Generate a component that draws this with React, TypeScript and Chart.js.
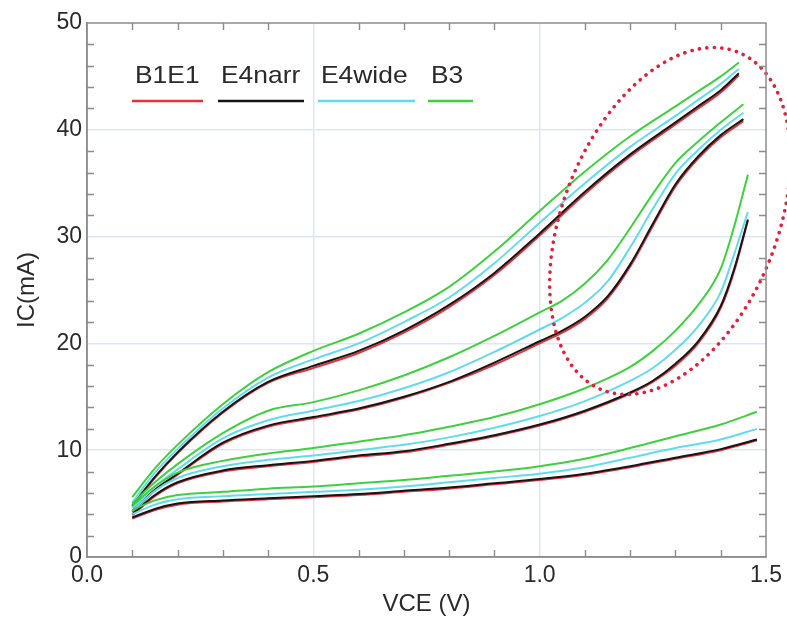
import React, { useEffect, useRef } from 'react';
import { Chart, registerables } from 'chart.js';

Chart.register(...registerables);

// ---- series definitions ----
const SERIES_NAMES = ['B1E1', 'E4narr', 'E4wide', 'B3'];
const SERIES_COLORS = ['#e5323f', '#151515', '#62dcec', '#3fd03f'];

// ---- base-current family 1 (lowest) ----
const VCE_1 = [0.1, 0.15, 0.2, 0.3, 0.4, 0.5, 0.6, 0.7, 0.8, 0.9, 1.0, 1.1, 1.2, 1.3, 1.4, 1.48];
const B1E1_1 = [3.6, 4.4, 4.9, 5.2, 5.4, 5.6, 5.8, 6.1, 6.4, 6.8, 7.2, 7.7, 8.4, 9.2, 10.0, 10.9];
const E4NARR_1 = [3.7, 4.5, 5.0, 5.3, 5.5, 5.7, 5.9, 6.2, 6.5, 6.9, 7.3, 7.8, 8.5, 9.3, 10.1, 11.0];
const E4WIDE_1 = [4.0, 4.9, 5.4, 5.7, 5.9, 6.1, 6.3, 6.6, 7.0, 7.4, 7.8, 8.4, 9.3, 10.2, 11.0, 12.0];
const B3_1 = [4.4, 5.3, 5.8, 6.1, 6.4, 6.6, 6.9, 7.2, 7.6, 8.0, 8.5, 9.2, 10.2, 11.3, 12.4, 13.6];

// ---- family 2 ----
const VCE_2 = [0.1, 0.15, 0.2, 0.3, 0.4, 0.5, 0.6, 0.7, 0.8, 0.9, 1.0, 1.1, 1.2, 1.25, 1.3, 1.35, 1.4, 1.43, 1.46];
const B1E1_2 = [3.9, 5.7, 6.9, 8.0, 8.5, 8.9, 9.4, 9.8, 10.5, 11.3, 12.3, 13.6, 15.3, 16.4, 17.9, 20.0, 23.3, 26.8, 31.5];
const E4NARR_2 = [4.0, 5.8, 7.0, 8.1, 8.6, 9.0, 9.5, 9.9, 10.6, 11.4, 12.4, 13.7, 15.4, 16.5, 18.1, 20.2, 23.5, 27.0, 31.6];
const E4WIDE_2 = [4.3, 6.2, 7.4, 8.5, 9.1, 9.5, 10.0, 10.5, 11.2, 12.1, 13.2, 14.6, 16.5, 17.7, 19.4, 21.6, 24.8, 28.4, 32.3];
const B3_2 = [4.8, 6.6, 7.9, 9.0, 9.7, 10.2, 10.8, 11.4, 12.2, 13.1, 14.3, 15.8, 17.8, 19.3, 21.2, 23.6, 27.0, 31.0, 35.8];

// ---- family 3 ----
const VCE_3 = [0.1, 0.15, 0.2, 0.3, 0.4, 0.5, 0.6, 0.7, 0.8, 0.9, 1.0, 1.05, 1.1, 1.15, 1.2, 1.25, 1.3, 1.35, 1.4, 1.45];
const B1E1_3 = [4.2, 6.2, 7.7, 10.6, 12.2, 13.0, 13.8, 14.9, 16.3, 18.0, 20.0, 21.0, 22.3, 24.2, 27.2, 31.0, 34.7, 37.3, 39.3, 40.8];
const E4NARR_3 = [4.3, 6.3, 7.8, 10.7, 12.3, 13.1, 13.9, 15.0, 16.4, 18.2, 20.2, 21.2, 22.5, 24.4, 27.4, 31.2, 34.9, 37.5, 39.5, 41.0];
const E4WIDE_3 = [4.6, 6.6, 8.2, 11.1, 12.8, 13.7, 14.6, 15.8, 17.3, 19.2, 21.3, 22.4, 23.8, 25.8, 29.0, 32.6, 35.9, 38.1, 40.0, 41.6];
const B3_3 = [5.0, 7.0, 8.7, 11.6, 13.7, 14.5, 15.6, 17.0, 18.7, 20.7, 22.9, 24.0, 25.6, 27.8, 30.8, 34.0, 36.9, 38.9, 40.7, 42.4];

// ---- family 4 (highest) ----
const VCE_4 = [0.1, 0.15, 0.2, 0.3, 0.4, 0.5, 0.6, 0.7, 0.8, 0.9, 1.0, 1.1, 1.2, 1.3, 1.35, 1.4, 1.44];
const B1E1_4 = [4.7, 7.4, 9.7, 13.5, 16.3, 17.7, 19.1, 21.0, 23.4, 26.4, 30.1, 34.0, 37.5, 40.5, 42.0, 43.5, 45.1];
const E4NARR_4 = [4.8, 7.5, 9.8, 13.6, 16.4, 17.9, 19.3, 21.2, 23.6, 26.6, 30.3, 34.2, 37.7, 40.7, 42.2, 43.7, 45.3];
const E4WIDE_4 = [5.1, 7.9, 10.1, 13.9, 16.8, 18.5, 20.0, 22.0, 24.3, 27.5, 31.3, 35.0, 38.4, 41.3, 42.8, 44.3, 45.7];
const B3_4 = [5.6, 8.3, 10.5, 14.3, 17.3, 19.3, 20.9, 22.9, 25.3, 28.6, 32.4, 36.1, 39.4, 42.2, 43.6, 45.0, 46.3];

// ---- axes ----
const X_MIN = 0;
const X_MAX = 1.5;
const X_STEP = 0.1;
const Y_MIN = 0;
const Y_MAX = 50;
const Y_STEP = 2;
const X_TITLE = 'VCE (V)';
const Y_TITLE = 'IC(mA)';

// highlighted region (data coordinates of the dotted ellipse centre)
const HIGHLIGHT_CENTER = { x: 1.288, y: 31.46 };

const FAMILIES = [
  { vce: VCE_1, series: [B1E1_1, E4NARR_1, E4WIDE_1, B3_1] },
  { vce: VCE_2, series: [B1E1_2, E4NARR_2, E4WIDE_2, B3_2] },
  { vce: VCE_3, series: [B1E1_3, E4NARR_3, E4WIDE_3, B3_3] },
  { vce: VCE_4, series: [B1E1_4, E4NARR_4, E4WIDE_4, B3_4] },
];

const FONT = "'Liberation Sans', Arial, Helvetica, sans-serif";
const TEXT_COLOR = '#2a2a2a';
const FRAME_COLOR = '#8c8c8c';
const GRID_COLOR = '#dbe7f2';

const isMajorX = (v: number) => {
  const r = Math.round(v * 10);
  return Math.abs(v * 10 - r) < 1e-6 && r % 5 === 0;
};
const isMajorY = (v: number) => Math.abs(v % 10) < 1e-6;

const decorPlugin = {
  id: 'decor',
  afterDatasetsDraw(chart: any) {
    const { ctx, chartArea, scales } = chart;
    const { left, right, top, bottom } = chartArea;
    const xs = scales.x;
    const ys = scales.y;
    ctx.save();

    // dotted highlight ellipse
    const cx = xs.getPixelForValue(HIGHLIGHT_CENTER.x);
    const cy = ys.getPixelForValue(HIGHLIGHT_CENTER.y);
    ctx.beginPath();
    ctx.ellipse(cx, cy, 107, 182, (22 * Math.PI) / 180, 0, Math.PI * 2);
    ctx.strokeStyle = '#e2203a';
    ctx.lineWidth = 3.6;
    ctx.lineCap = 'round';
    ctx.setLineDash([0.1, 7.4]);
    ctx.stroke();
    ctx.setLineDash([]);
    ctx.lineCap = 'butt';

    // frame
    ctx.strokeStyle = FRAME_COLOR;
    ctx.lineWidth = 1.5;
    ctx.strokeRect(left, top, right - left, bottom - top);

    // inner minor ticks
    const TL = 7;
    ctx.lineWidth = 1.4;
    ctx.beginPath();
    xs.ticks.forEach((t: any) => {
      const v = t.value;
      if (isMajorX(v)) return;
      const px = Math.round(xs.getPixelForValue(v)) + 0.5;
      ctx.moveTo(px, bottom);
      ctx.lineTo(px, bottom - TL);
      ctx.moveTo(px, top);
      ctx.lineTo(px, top + TL);
    });
    ys.ticks.forEach((t: any) => {
      const v = t.value;
      if (isMajorY(v)) return;
      const py = Math.round(ys.getPixelForValue(v)) + 0.5;
      ctx.moveTo(left, py);
      ctx.lineTo(left + TL, py);
      ctx.moveTo(right, py);
      ctx.lineTo(right - TL, py);
    });
    ctx.stroke();
    ctx.restore();
  },
  afterDraw(chart: any) {
    // legend: name above a short line sample
    const { ctx } = chart;
    const items = [
      { x: 132, w: 71 },
      { x: 218, w: 86 },
      { x: 318, w: 97 },
      { x: 428, w: 45 },
    ];
    ctx.save();
    ctx.font = `24px ${FONT}`;
    ctx.fillStyle = TEXT_COLOR;
    ctx.textBaseline = 'alphabetic';
    ctx.textAlign = 'left';
    SERIES_NAMES.forEach((name, i) => {
      const it = items[i];
      ctx.save();
      ctx.translate(it.x + 3, 83);
      ctx.scale(1.1, 1);
      ctx.fillText(name, 0, 0);
      ctx.restore();
      ctx.beginPath();
      ctx.moveTo(it.x, 101);
      ctx.lineTo(it.x + it.w, 101);
      ctx.strokeStyle = SERIES_COLORS[i];
      ctx.lineWidth = 2.5;
      ctx.stroke();
    });
    ctx.restore();
  },
};

function buildDatasets() {
  const ds: any[] = [];
  FAMILIES.forEach((fam, f) => {
    fam.series.forEach((vals, s) => {
      ds.push({
        label: `${SERIES_NAMES[s]} #${f + 1}`,
        data: fam.vce.map((x, i) => ({ x, y: vals[i] })),
        borderColor: SERIES_COLORS[s],
        backgroundColor: SERIES_COLORS[s],
        borderWidth: 2,
        pointRadius: 0,
        showLine: true,
        fill: false,
        cubicInterpolationMode: 'monotone',
        order: 3 - s,
      });
    });
  });
  return ds;
}

export default function App() {
  const ref = useRef<HTMLCanvasElement>(null);
  useEffect(() => {
    const canvas = ref.current;
    if (!canvas) return;
    const chart = new Chart(canvas, {
      type: 'scatter',
      data: { datasets: buildDatasets() },
      options: {
        responsive: false,
        animation: false,
        events: [],
        layout: { padding: { left: 0, top: 23, right: 19, bottom: 0 } },
        plugins: {
          legend: { display: false },
          tooltip: { enabled: false },
          title: { display: false },
        },
        scales: {
          x: {
            type: 'linear',
            min: X_MIN,
            max: X_MAX,
            afterFit: (scale: any) => {
              scale.height = 63;
            },
            ticks: {
              stepSize: X_STEP,
              autoSkip: false,
              maxRotation: 0,
              minRotation: 0,
              padding: 5,
              color: TEXT_COLOR,
              font: { family: FONT, size: 23 },
              callback: (value: any) => {
                const v = Number(value);
                return isMajorX(v) ? v.toFixed(1) : '';
              },
            },
            grid: {
              drawTicks: false,
              lineWidth: 1.5,
              color: (c: any) => {
                const v = c.tick ? c.tick.value : 0;
                return isMajorX(v) && v > X_MIN && v < X_MAX ? GRID_COLOR : 'rgba(0,0,0,0)';
              },
            },
            border: { display: true, color: FRAME_COLOR, width: 1.5 },
            title: {
              display: true,
              text: X_TITLE,
              color: TEXT_COLOR,
              font: { family: FONT, size: 24 },
              padding: { top: 0, bottom: 1 },
            },
          },
          y: {
            type: 'linear',
            min: Y_MIN,
            max: Y_MAX,
            afterFit: (scale: any) => {
              scale.width = 87;
            },
            ticks: {
              stepSize: Y_STEP,
              autoSkip: false,
              padding: 5,
              color: TEXT_COLOR,
              font: { family: FONT, size: 23 },
              callback: (value: any) => {
                const v = Number(value);
                return isMajorY(v) ? String(v) : '';
              },
            },
            grid: {
              drawTicks: false,
              lineWidth: 1.5,
              color: (c: any) => {
                const v = c.tick ? c.tick.value : 0;
                return isMajorY(v) && v > Y_MIN && v < Y_MAX ? GRID_COLOR : 'rgba(0,0,0,0)';
              },
            },
            border: { display: true, color: FRAME_COLOR, width: 1.5 },
            title: {
              display: true,
              text: Y_TITLE,
              color: TEXT_COLOR,
              font: { family: FONT, size: 24 },
              padding: { top: 13, bottom: 0 },
            },
          },
        },
      },
      plugins: [decorPlugin],
    } as any);
    return () => chart.destroy();
  }, []);

  return (
    <div style={{ position: 'absolute', left: 0, top: 0, width: 787, height: 620, background: '#ffffff' }}>
      <canvas ref={ref} width={787} height={620} style={{ display: 'block' }} />
    </div>
  );
}
